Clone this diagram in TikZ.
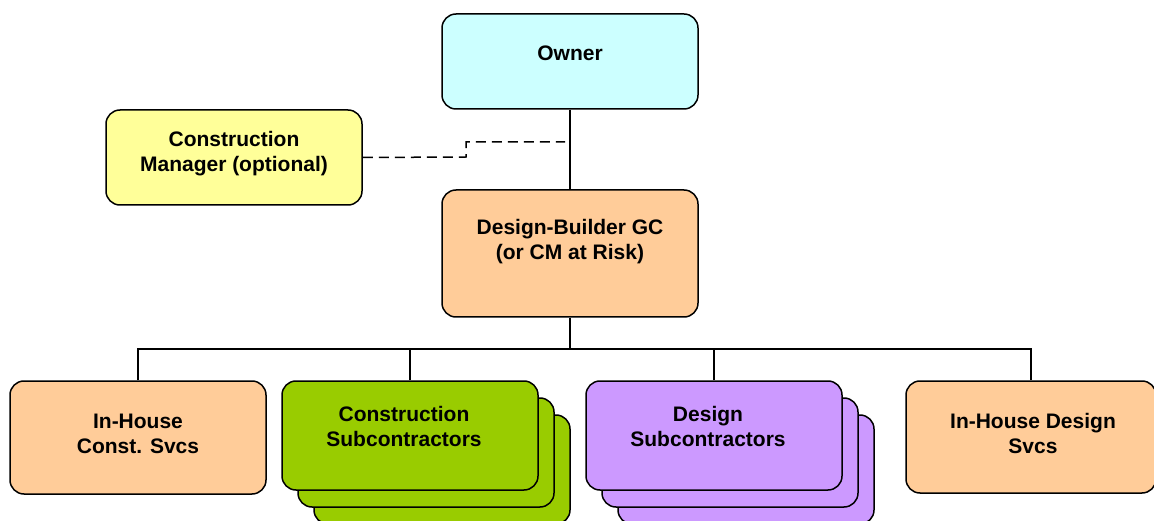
\documentclass[tikz,border=0pt]{standalone}
\usepackage{fontspec}
\setmainfont{Liberation Sans}
\usetikzlibrary{calc}
\definecolor{ownerc}{HTML}{CCFFFF}
\definecolor{cmc}{HTML}{FFFF99}
\definecolor{dbc}{HTML}{FFCC99}
\definecolor{subgreen}{HTML}{99CC00}
\definecolor{subpurple}{HTML}{CC99FF}
\begin{document}
\begin{tikzpicture}[x=1pt,y=-1pt,
  box/.style={draw, line width=1.5pt, rounded corners=14pt, minimum width=256pt, inner sep=0pt},
  label/.style={font=\bfseries\fontsize{21}{25}\selectfont, align=center, inner sep=0pt},
  link/.style={line width=1.5pt},
  dashlink/.style={line width=1.5pt, dash pattern=on 10pt off 6pt}]
\useasboundingbox (0,0) rectangle (1154,521);
\clip (0,0) rectangle (1154,521);

% top level
\node[box, fill=ownerc, minimum height=95pt] (owner) at (570,61.5) {};
\node[label] (ownert) at (570,53) {Owner};

\node[box, fill=cmc, minimum height=95pt] (cm) at (234,157.5) {};
\node[label] (cmt) at (234,153.5) {Construction\\Manager (optional)};

\node[box, fill=dbc, minimum height=127pt] (db) at (570,253.5) {};
\node[label] (dbt) at (570,241.5) {Design-Builder GC\\(or CM at Risk)};

% bottom level
\node[box, fill=dbc, minimum height=113pt] (ihc) at (138,437.5) {};
\node[label] (ihct) at (138,433.5) {In-House\\Const. Svcs};

\node[box, fill=subgreen, minimum height=109pt] (cs3) at (442,469.5) {};
\node[box, fill=subgreen, minimum height=109pt] (cs2) at (426,452.5) {};
\node[box, fill=subgreen, minimum height=109pt] (cs) at (410,435.5) {};
\node[label] (cst) at (404,426.5) {Construction\\Subcontractors};

\node[box, fill=subpurple, minimum height=109pt] (ds3) at (746,469.5) {};
\node[box, fill=subpurple, minimum height=109pt] (ds2) at (730,452.5) {};
\node[box, fill=subpurple, minimum height=109pt] (ds) at (714,435.5) {};
\node[label] (dst) at (708,426.5) {Design\\Subcontractors};

\node[box, fill=dbc, minimum height=112pt, minimum width=250pt] (ihd) at (1031,437) {};
\node[label] (ihdt) at (1033,433.5) {In-House Design\\Svcs};

% connectors
\draw[link] (owner.south) -- (db.north);
\coordinate (bus) at (570,349);
\draw[link] (db.south) -- (bus);
\draw[link] (ihc.north) -- (ihc.north |- bus) -- (ihd.north |- bus) -- (ihd.north);
\draw[link] (cs.north) -- (cs.north |- bus);
\draw[link] (ds.north) -- (ds.north |- bus);

\coordinate (step1) at (466,157);
\coordinate (step2) at (466,142);
\coordinate (cmend) at (565,142);
\draw[dashlink] (cm.east) -- (step1) -- (step2) -- (cmend);
\end{tikzpicture}
\end{document}
